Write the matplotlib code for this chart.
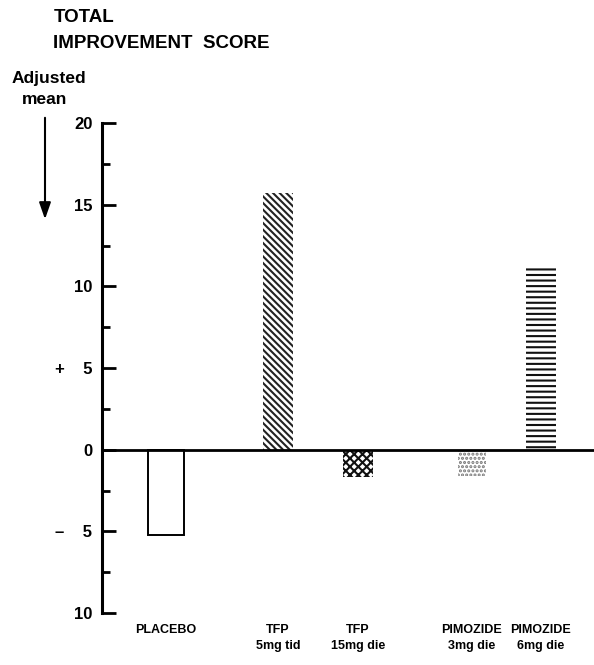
import matplotlib
matplotlib.use("Agg")
import matplotlib.pyplot as plt

# data
groups = ["PLACEBO", "TFP\n5mg tid", "TFP\n15mg die", "PIMOZIDE\n3mg die", "PIMOZIDE\n6mg die"]
adjusted_mean = [-5.2, 15.7, -1.7, -1.6, 11.3]
y_ticks = [-10, -5, 0, 5, 10, 15, 20]
y_tick_labels = ["10", "\u2013    5", "0", "+    5", "10", "15", "20"]

# layout (x in arbitrary units, axis spans 0..10)
positions = [1.3, 3.58, 5.2, 7.52, 8.92]
widths = [0.73, 0.62, 0.62, 0.58, 0.62]
styles = [
    dict(facecolor="white", edgecolor="black", linewidth=1.4, hatch=None),
    dict(facecolor="white", edgecolor="#222222", linewidth=0, hatch="\\\\\\\\\\"),
    dict(facecolor="white", edgecolor="#111111", linewidth=0, hatch="xxxx"),
    dict(facecolor="white", edgecolor="#777777", linewidth=0, hatch="...."),
    dict(facecolor="white", edgecolor="#111111", linewidth=0, hatch="---"),
]

plt.rcParams["font.family"] = ["Liberation Sans", "DejaVu Sans"]
plt.rcParams["hatch.linewidth"] = 1.5

W, H = 594, 665
fig = plt.figure(figsize=(W / 100, H / 100), dpi=100)
ax = fig.add_axes([102 / W, (H - 613) / H, (W - 102) / W, 490 / H])

for x, v, w, st in zip(positions, adjusted_mean, widths, styles):
    ax.bar(x, v, width=w, **st)

ax.axhline(0, color="black", linewidth=2, zorder=5)

ax.set_xlim(0, 10)
ax.set_ylim(-10, 20)
for s in ["top", "right", "bottom"]:
    ax.spines[s].set_visible(False)
ax.spines["left"].set_linewidth(2.2)

ax.set_yticks(y_ticks)
ax.set_yticklabels(y_tick_labels, fontsize=12, fontweight="bold")
ax.set_yticks([-7.5, -2.5, 2.5, 7.5, 12.5, 17.5], minor=True)
ax.tick_params(axis="y", which="major", direction="in", length=10, width=2, pad=7)
ax.tick_params(axis="y", which="minor", direction="in", length=5.5, width=2)

ax.set_xticks(positions)
ax.set_xticklabels(groups, fontsize=9, fontweight="bold", linespacing=1.45)
ax.tick_params(axis="x", length=0, pad=8)

fig.text(54 / W, 1 - 17 / H, "TOTAL", fontsize=13.5, fontweight="bold", va="center", ha="left")
fig.text(53 / W, 1 - 43 / H, "IMPROVEMENT  SCORE", fontsize=13.5, fontweight="bold", va="center", ha="left")
fig.text(49 / W, 1 - 78 / H, "Adjusted", fontsize=12.5, fontweight="bold", va="center", ha="center")
fig.text(45 / W, 1 - 100 / H, "mean", fontsize=12.5, fontweight="bold", va="center", ha="center")

fig.patches.append(matplotlib.patches.FancyArrowPatch(
    (45 / W, 1 - 115 / H), (45 / W, 1 - 222 / H), transform=fig.transFigure,
    arrowstyle="-|>,head_length=10,head_width=3.5", mutation_scale=1, color="black", linewidth=1.5))

fig.savefig("out.png", dpi=100)
